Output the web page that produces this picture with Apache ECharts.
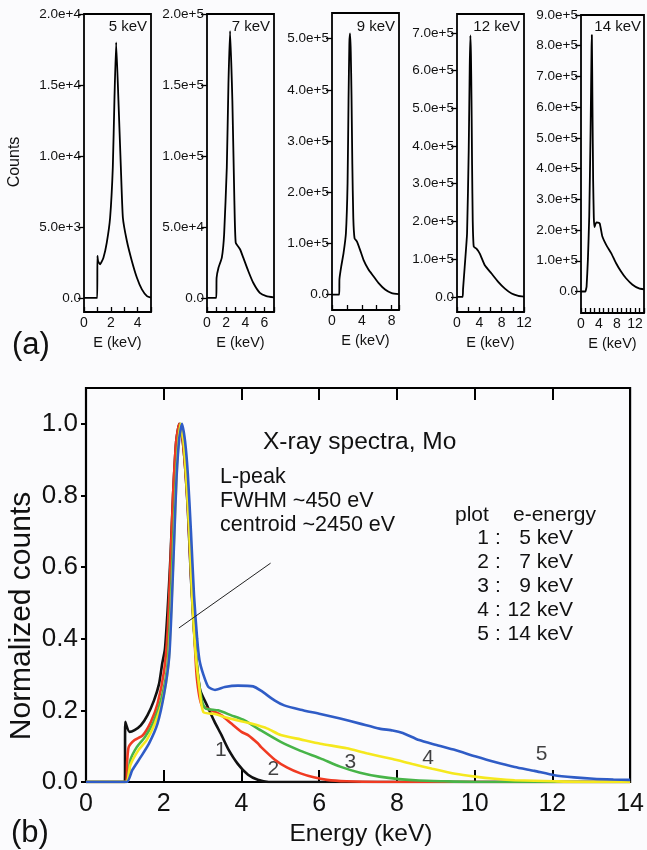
<!DOCTYPE html>
<html>
<head>
<meta charset="utf-8">
<script src="https://cdn.jsdelivr.net/npm/echarts@6/dist/echarts.min.js"></script>
<style>
html, body { margin: 0; padding: 0; background: #fbfbfd; }
#chart { width: 647px; height: 850px; }
</style>
</head>
<body>
<div id="chart"></div>
<script>
// (a) raw spectra, energy (keV) and counts
var e5 = [0, 0.99, 1.0, 1.05, 1.2, 1.45, 1.7, 1.95, 2.15, 2.27, 2.4, 2.57, 2.75, 2.9, 3.2, 3.57, 3.95, 4.32, 4.7, 5.0];
var c5 = [0, 0, 2950, 2600, 2360, 2830, 3890, 5660, 9200, 13900, 18000, 13900, 9200, 5660, 4000, 2600, 1415, 590, 118, 20];
var e7 = [0, 0.97, 1.0, 1.2, 1.55, 1.79, 2.07, 2.24, 2.41, 2.65, 2.86, 3.0, 3.45, 3.79, 4.31, 4.83, 5.52, 6.2, 7.0];
var c7 = [0, 0, 14000, 21200, 28300, 44800, 92000, 151000, 188000, 139000, 68400, 38900, 34200, 28300, 18900, 10600, 3500, 1200, 300];
var e9 = [0, 0.97, 1.0, 1.24, 1.55, 1.87, 2.09, 2.22, 2.33, 2.42, 2.52, 2.62, 2.73, 2.86, 3.03, 3.34, 3.78, 4.23, 4.9, 5.57, 6.23, 7.13, 8.02, 9.0];
var c9 = [0, 0, 30000, 55000, 81000, 120000, 217000, 379000, 490000, 510000, 475000, 390000, 255000, 150000, 110000, 104000, 87000, 68000, 49000, 36000, 23000, 10000, 3000, 1000];
var e12 = [0, 1.0, 1.08, 1.38, 1.8, 2.1, 2.28, 2.4, 2.5, 2.6, 2.7, 2.82, 3.0, 3.48, 4.08, 4.98, 6.18, 7.38, 8.58, 9.78, 10.98, 12.0];
var c12 = [0, 0, 20000, 80000, 168000, 390000, 610000, 693000, 640000, 520000, 350000, 200000, 133000, 128000, 115000, 84000, 62000, 40000, 22000, 9000, 3000, 1000];
var e14 = [0, 1.0, 1.09, 1.24, 1.53, 1.83, 2.12, 2.34, 2.41, 2.55, 2.7, 2.85, 2.99, 3.42, 4.15, 4.73, 5.6, 6.7, 7.8, 8.9, 10.0, 11.45, 12.9, 14.0];
var c14 = [0, 0, 5000, 16000, 103000, 244000, 515000, 786000, 835000, 600000, 360000, 240000, 210000, 225000, 222000, 180000, 152000, 125000, 92000, 65000, 43000, 22000, 10000, 7000];

var small_names = ['5 keV', '7 keV', '9 keV', '12 keV', '14 keV'];
var small_emax = [5, 7, 9, 12, 14];
var small_ymin = [-1000, -10000, -30000, -40000, -70000];
var small_ymax = [20000, 200000, 550000, 750000, 900000];
var small_yticks = [
	[0, 5000, 10000, 15000, 20000],
	[0, 50000, 100000, 150000, 200000],
	[0, 100000, 200000, 300000, 400000, 500000],
	[0, 100000, 200000, 300000, 400000, 500000, 600000, 700000],
	[0, 100000, 200000, 300000, 400000, 500000, 600000, 700000, 800000, 900000]
];
var small_xstep = [1, 1, 2, 2, 1];      // tick spacing, keV
var small_xlabelstep = [2, 2, 4, 4, 4]; // labelled every ... keV

// (b) normalized spectra
var eN1 = [0, 1.0, 1.01, 1.12, 1.25, 1.41, 1.58, 1.75, 1.88, 1.96, 2.03, 2.1, 2.17, 2.24, 2.32, 2.4, 2.48, 2.55, 2.62, 2.7, 2.78, 2.86, 2.94, 3.11, 3.3, 3.49, 3.66, 3.91, 4.17, 4.42, 4.7, 14];
var n1 = [0, 0, 0.168, 0.14, 0.145, 0.158, 0.186, 0.228, 0.274, 0.33, 0.37, 0.48, 0.62, 0.8, 0.95, 1.0, 0.96, 0.88, 0.76, 0.57, 0.42, 0.32, 0.256, 0.215, 0.17, 0.13, 0.092, 0.05, 0.02, 0.006, 0, 0];
var eN2 = [0, 1.03, 1.06, 1.1, 1.25, 1.46, 1.67, 1.84, 2.01, 2.1, 2.17, 2.24, 2.32, 2.4, 2.48, 2.55, 2.62, 2.7, 2.78, 2.85, 2.98, 3.23, 3.49, 3.74, 4.0, 4.17, 4.42, 4.5, 4.85, 5.18, 5.52, 5.86, 6.2, 6.7, 7.5, 14];
var n2 = [0, 0, 0.06, 0.098, 0.117, 0.13, 0.168, 0.218, 0.311, 0.42, 0.6, 0.8, 0.95, 1.0, 0.96, 0.88, 0.77, 0.58, 0.43, 0.293, 0.214, 0.2, 0.186, 0.163, 0.14, 0.131, 0.108, 0.098, 0.063, 0.04, 0.024, 0.013, 0.006, 0.002, 0, 0];
var eN3 = [0, 1.03, 1.14, 1.31, 1.52, 1.74, 1.95, 2.1, 2.18, 2.26, 2.34, 2.43, 2.51, 2.58, 2.65, 2.73, 2.81, 2.9, 3.0, 3.08, 3.4, 3.74, 4.08, 4.5, 5.01, 5.52, 6.03, 6.54, 7.05, 7.55, 8.06, 8.57, 9.2, 10, 14];
var n3 = [0, 0, 0.061, 0.098, 0.126, 0.168, 0.237, 0.33, 0.5, 0.72, 0.9, 1.0, 0.95, 0.85, 0.72, 0.52, 0.38, 0.28, 0.22, 0.205, 0.2, 0.186, 0.172, 0.144, 0.112, 0.087, 0.066, 0.043, 0.026, 0.015, 0.008, 0.004, 0.002, 0, 0];
var eN4 = [0, 1.03, 1.14, 1.35, 1.56, 1.77, 1.98, 2.12, 2.2, 2.28, 2.35, 2.43, 2.51, 2.58, 2.66, 2.74, 2.82, 2.92, 3.02, 3.32, 3.57, 3.91, 4.25, 4.67, 5.01, 5.52, 6.03, 6.71, 7.22, 7.89, 8.4, 8.91, 9.5, 10.01, 10.52, 11.03, 12.05, 13, 14];
var n4 = [0, 0, 0.047, 0.089, 0.117, 0.163, 0.232, 0.33, 0.5, 0.72, 0.9, 1.0, 0.95, 0.85, 0.7, 0.5, 0.36, 0.26, 0.195, 0.19, 0.181, 0.172, 0.163, 0.149, 0.131, 0.119, 0.107, 0.094, 0.08, 0.064, 0.05, 0.037, 0.023, 0.015, 0.009, 0.005, 0.002, 0, 0];
var eN5 = [0, 1.05, 1.19, 1.41, 1.62, 1.84, 2.01, 2.14, 2.2, 2.27, 2.33, 2.4, 2.47, 2.55, 2.62, 2.7, 2.78, 2.86, 2.92, 3.02, 3.15, 3.32, 3.57, 3.91, 4.3, 4.5, 4.85, 5.1, 5.52, 6.03, 6.54, 7.05, 7.55, 7.89, 8.15, 8.57, 8.99, 9.5, 10.01, 10.52, 11.03, 11.54, 12.05, 12.56, 13.06, 13.57, 14];
var n5 = [0, 0, 0.033, 0.07, 0.107, 0.163, 0.246, 0.348, 0.48, 0.68, 0.85, 0.96, 1.0, 0.95, 0.86, 0.7, 0.52, 0.4, 0.34, 0.3, 0.265, 0.257, 0.265, 0.269, 0.267, 0.255, 0.228, 0.214, 0.202, 0.19, 0.177, 0.163, 0.149, 0.144, 0.137, 0.117, 0.104, 0.089, 0.072, 0.056, 0.042, 0.031, 0.019, 0.013, 0.009, 0.007, 0.006];

var main_yticks = [0, 0.2, 0.4, 0.6, 0.8, 1.0];
var curve_colors = ['#111111', '#f03a22', '#47b448', '#f5e81e', '#2f5cc6'];
var curve_tags = ['1', '2', '3', '4', '5'];
var curve_tag_pos = [[3.47, 0.088], [4.82, 0.036], [6.8, 0.054], [8.8, 0.066], [11.72, 0.078]];
var pointer_line = [[4.75, 0.611], [2.39, 0.43]];

var legend_rows = [['1', '5 keV'], ['2', '7 keV'], ['3', '9 keV'], ['4', '12 keV'], ['5', '14 keV']];

var FONT = "'Liberation Sans', Arial, Helvetica, sans-serif";
var TICK = '#000';

function pairs(xs, ys){
	return xs.map(function(x, i){ return [x, ys[i]]; });
}

var chart = echarts.init(document.getElementById('chart'));

// small plot boxes: left, width, top, height
var small_boxes = [[84, 67, 14, 298], [207, 67, 14, 298], [332, 67, 13, 297], [457, 67, 14, 298], [581, 64, 15, 298]];
var small_data = [pairs(e5, c5), pairs(e7, c7), pairs(e9, c9), pairs(e12, c12), pairs(e14, c14)];

var grids = [], xAxes = [], yAxes = [], series = [], graphics = [];

function make_xlabel(step){
	return function(v){ return (Math.abs(v % step) < 1e-9) ? String(v) : ''; };
}

for (var i = 0; i < 5; i++) {
	var b = small_boxes[i];
	grids.push({left: b[0], width: b[1], top: b[2], height: b[3], show: true, borderColor: '#000', borderWidth: 1.8});
	xAxes.push({
		type: 'value', gridIndex: i, min: 0, max: small_emax[i], interval: small_xstep[i],
		axisLine: {show: false, onZero: false}, splitLine: {show: false},
		axisTick: {show: true, inside: true, length: 5, lineStyle: {color: TICK, width: 1.3}},
		axisLabel: {color: '#111', fontSize: 14, fontFamily: FONT, margin: 4, formatter: make_xlabel(small_xlabelstep[i])},
		name: 'E (keV)', nameLocation: 'middle', nameGap: 23,
		nameTextStyle: {color: '#111', fontSize: 14.5, fontFamily: FONT}
	});
	yAxes.push({
		type: 'value', gridIndex: i, min: small_ymin[i], max: small_ymax[i],
		axisLine: {show: false, onZero: false}, splitLine: {show: false},
		axisTick: {show: true, inside: false, length: 6, lineStyle: {color: TICK, width: 1.3}, customValues: small_yticks[i]},
		axisLabel: {
			customValues: small_yticks[i], color: '#111', fontSize: 13.5, fontFamily: FONT, margin: 3,
			formatter: function(v){ return v === 0 ? '0.0' : v.toExponential(1); }
		}
	});
	series.push({
		type: 'line', xAxisIndex: i, yAxisIndex: i, data: small_data[i],
		showSymbol: false, symbol: 'none', smooth: 0.15,
		lineStyle: {color: '#000', width: 1.8}, silent: true, animation: false
	});
	graphics.push({
		type: 'text', x: b[0] + b[1] - 4, y: 27,
		style: {text: small_names[i], font: '15px ' + FONT, fill: '#111', align: 'right', verticalAlign: 'middle'}
	});
}

// main plot (b)
grids.push({left: 86, right: 10, top: 388, bottom: 68, show: true, borderColor: '#000', borderWidth: 2.2});
xAxes.push({
	type: 'value', gridIndex: 5, min: 0, max: 14, interval: 2,
	axisLine: {show: false, onZero: false}, splitLine: {show: false},
	axisTick: {show: true, inside: true, length: 12, lineStyle: {color: TICK, width: 2}},
	axisLabel: {color: '#111', fontSize: 25, fontFamily: FONT, margin: 10}
});
xAxes.push({
	type: 'value', gridIndex: 5, min: 0, max: 14, interval: 2, position: 'top',
	axisLine: {show: false, onZero: false}, splitLine: {show: false},
	axisTick: {show: true, inside: true, length: 12, lineStyle: {color: TICK, width: 2}},
	axisLabel: {show: false}
});
yAxes.push({
	type: 'value', gridIndex: 5, min: 0, max: 1.1,
	axisLine: {show: false, onZero: false}, splitLine: {show: false},
	axisTick: {show: true, inside: false, length: 5, lineStyle: {color: TICK, width: 2}, customValues: main_yticks},
	axisLabel: {customValues: main_yticks, color: '#111', fontSize: 26, fontFamily: FONT, margin: 8,
		formatter: function(v){ return v.toFixed(1); }}
});

var main_sets = [pairs(eN1, n1), pairs(eN2, n2), pairs(eN3, n3), pairs(eN4, n4), pairs(eN5, n5)];
for (var k = 0; k < 5; k++) {
	series.push({
		type: 'line', xAxisIndex: 5, yAxisIndex: 5, data: main_sets[k],
		showSymbol: false, symbol: 'none', smooth: 0.2,
		lineStyle: {color: curve_colors[k], width: 2.6}, silent: true, animation: false
	});
}
// pointer line for the L-peak note
series.push({
	type: 'line', xAxisIndex: 5, yAxisIndex: 5, data: pointer_line,
	showSymbol: false, symbol: 'none', lineStyle: {color: '#222', width: 1}, silent: true, animation: false
});
// curve numbers
series.push({
	type: 'scatter', xAxisIndex: 5, yAxisIndex: 5, data: curve_tag_pos.map(function(p, i){ return {value: p, name: curve_tags[i]}; }),
	symbolSize: 0, silent: true, animation: false,
	label: {show: true, position: 'inside', formatter: '{b}', color: '#111', fontSize: 21, fontFamily: FONT}
});

// texts
graphics.push({type: 'text', x: 15, y: 162, rotation: Math.PI / 2,
	style: {text: 'Counts', font: '16px ' + FONT, fill: '#111', align: 'center', verticalAlign: 'middle'}});
graphics.push({type: 'text', x: 12, y: 345,
	style: {text: '(a)', font: '31px ' + FONT, fill: '#111', align: 'left', verticalAlign: 'middle'}});
graphics.push({type: 'text', x: 11, y: 833,
	style: {text: '(b)', font: '31px ' + FONT, fill: '#111', align: 'left', verticalAlign: 'middle'}});
graphics.push({type: 'text', x: 22, y: 616, rotation: Math.PI / 2,
	style: {text: 'Normalized counts', font: '30px ' + FONT, fill: '#111', align: 'center', verticalAlign: 'middle'}});
graphics.push({type: 'text', x: 361, y: 834,
	style: {text: 'Energy (keV)', font: '24.5px ' + FONT, fill: '#111', align: 'center', verticalAlign: 'middle'}});
graphics.push({type: 'text', x: 263, y: 442,
	style: {text: 'X-ray spectra, Mo', font: '24.5px ' + FONT, fill: '#111', align: 'left', verticalAlign: 'middle'}});
graphics.push({type: 'text', x: 220, y: 501,
	style: {text: 'L-peak\nFWHM ~450 eV\ncentroid ~2450 eV', font: '21.5px ' + FONT, fill: '#111', align: 'left', verticalAlign: 'middle', lineHeight: 24}});
graphics.push({type: 'text', x: 455, y: 515,
	style: {text: 'plot', font: '21px ' + FONT, fill: '#111', align: 'left', verticalAlign: 'middle'}});
graphics.push({type: 'text', x: 513, y: 515,
	style: {text: 'e-energy', font: '21px ' + FONT, fill: '#111', align: 'left', verticalAlign: 'middle'}});
for (var r = 0; r < legend_rows.length; r++) {
	var ry = 538 + r * 24;
	graphics.push({type: 'text', x: 489, y: ry,
		style: {text: legend_rows[r][0], font: '21px ' + FONT, fill: '#111', align: 'right', verticalAlign: 'middle'}});
	graphics.push({type: 'text', x: 498, y: ry,
		style: {text: ':', font: '21px ' + FONT, fill: '#111', align: 'center', verticalAlign: 'middle'}});
	graphics.push({type: 'text', x: 573, y: ry,
		style: {text: legend_rows[r][1], font: '21px ' + FONT, fill: '#111', align: 'right', verticalAlign: 'middle'}});
}

var option = {
	backgroundColor: '#fbfbfd',
	animation: false,
	grid: grids,
	xAxis: xAxes,
	yAxis: yAxes,
	series: series,
	graphic: graphics
};
chart.setOption(option);
</script>
</body>
</html>
